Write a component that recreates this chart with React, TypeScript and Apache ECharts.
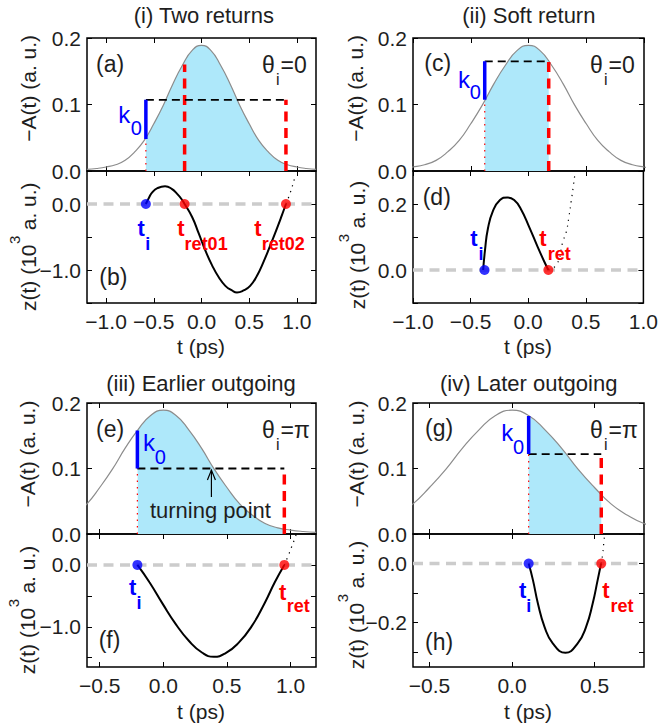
import React, { useEffect, useRef } from 'react';
import * as echarts from 'echarts';

// ---------------- data ----------------
const pulseT = [-1.2, -1.1, -1.0, -0.9, -0.8, -0.7, -0.6, -0.5, -0.4, -0.3, -0.2, -0.1, 0, 0.1, 0.2, 0.3, 0.4, 0.5, 0.6, 0.7, 0.8, 0.9, 1.0, 1.1, 1.2];
const pulseA = [0.0024, 0.0038, 0.006, 0.0094, 0.016, 0.0287, 0.046, 0.071, 0.099, 0.131, 0.159, 0.181, 0.189, 0.181, 0.159, 0.131, 0.099, 0.071, 0.046, 0.0287, 0.016, 0.0094, 0.006, 0.0038, 0.0024];

// (a)/(b) two returns
const tiA = -0.583;
const AtiA = 0.048;
const kLevelA = 0.107;
const tRetA = [-0.177, 0.885];
const retTopA = [0.16, 0.107];
const AEndA = 0.0104;
const zB = [[-0.583, 0], [-0.549, 0.1], [-0.514, 0.18], [-0.462, 0.24], [-0.382, 0.268], [-0.312, 0.23], [-0.253, 0.15], [-0.21, 0.076], [-0.177, 0],
  [-0.097, -0.2], [-0.028, -0.45], [0.042, -0.71], [0.111, -0.93], [0.181, -1.11], [0.25, -1.24], [0.319, -1.31], [0.372, -1.34],
  [0.441, -1.31], [0.51, -1.24], [0.58, -1.09], [0.649, -0.88], [0.72, -0.63], [0.788, -0.38], [0.84, -0.18], [0.885, 0]];
const zBDot = [[0.885, 0], [0.91, 0.09], [0.93, 0.17], [0.95, 0.26], [0.97, 0.36], [0.985, 0.45]];

// (c)/(d) soft return
const tiC = -0.379;
const AtiC = 0.107;
const kLevelC = 0.165;
const tRetC = [0.175];
const retTopC = [0.165];
const AEndC = 0.1645;
const zD = [[-0.391, 0], [-0.375, 0.06], [-0.35, 0.125], [-0.305, 0.18], [-0.245, 0.212], [-0.181, 0.22], [-0.122, 0.212], [-0.064, 0.185], [0.009, 0.13], [0.082, 0.07], [0.14, 0.025], [0.175, 0]];
const zDDot = [[0.175, 0], [0.25, 0.018], [0.3, 0.085], [0.33, 0.115], [0.353, 0.16], [0.374, 0.21], [0.394, 0.26], [0.405, 0.29]];

// (e)/(f) earlier outgoing
const tiE = -0.204;
const AtiE = 0.158;
const kLevelE = 0.1;
const tRetE = [0.951];
const retTopE = [0.1];
const AEndE = 0.0077;
const tTurnE = 0.378;
const zF = [[-0.204, 0], [-0.109, -0.28], [-0.005, -0.63], [0.099, -0.96], [0.202, -1.23], [0.306, -1.42], [0.396, -1.485], [0.487, -1.43], [0.591, -1.26], [0.695, -0.99], [0.798, -0.61], [0.876, -0.28], [0.951, 0]];
const zFDot = [[0.951, 0], [0.982, 0.15], [1.008, 0.29], [1.034, 0.43], [1.045, 0.5]];

// (g)/(h) later outgoing
const tiG = 0.101;
const AtiG = 0.18;
const kLevelG = 0.122;
const tRetG = [0.541];
const retTopG = [0.122];
const AEndG = 0.06;
const zH = [[0.101, 0], [0.127, -0.056], [0.157, -0.135], [0.197, -0.214], [0.247, -0.27], [0.324, -0.302], [0.398, -0.27], [0.449, -0.214], [0.489, -0.135], [0.519, -0.056], [0.54, 0]];
const zHDot = [[0.54, 0], [0.55, 0.034], [0.556, 0.068], [0.562, 0.1]];

// axes
const xRangeAB = [-1.2, 1.2];
const xRangeCD = [-1, 1];
const xRangeEF = [-0.6, 1.2];
const xRangeGH = [-0.6, 0.8];
const xTicksAB = [-1, -0.5, 0, 0.5, 1];
const xTicksCD = [-1, -0.5, 0, 0.5, 1];
const xTicksEF = [-0.5, 0, 0.5, 1];
const xTicksGH = [-0.5, 0, 0.5];
const yRangeUp = [0, 0.2];
const yTicksUp = [0, 0.1, 0.2];
const yRangeB = [-1.5, 0.5];
const yTicksB = [-1.5, -1, -0.5, 0, 0.5];
const yLabelsB = [-1, 0];
const yRangeD = [-0.1, 0.3];
const yTicksD = [-0.1, 0, 0.1, 0.2, 0.3];
const yLabelsD = [0, 0.2];
const yRangeF = [-1.65, 0.5];
const yTicksF = [-1.5, -1, -0.5, 0, 0.5];
const yLabelsF = [-1, 0];
const yRangeH = [-0.35, 0.1];
const yTicksH = [-0.3, -0.2, -0.1, 0, 0.1];
const yLabelsH = [-0.2, 0];

const titles = ['(i) Two returns', '(ii) Soft return', '(iii) Earlier outgoing', '(iv) Later outgoing'];
const letters = ['(a)', '(b)', '(c)', '(d)', '(e)', '(f)', '(g)', '(h)'];
const thetaVals = ['=0', '=0', '=\u03c0', '=\u03c0'];

// ---------------- layout ----------------
const FONT = "'Liberation Sans', Arial, Helvetica, sans-serif";
const TXT = '#1e1e1e';
const FILL = '#aee8fa';
const RED = '#ff0000';
const BLUE = '#0000ff';

const GRIDS = [
  { left: 87, top: 38, width: 229, height: 133 },
  { left: 87, top: 171, width: 229, height: 132 },
  { left: 413, top: 38, width: 231, height: 133 },
  { left: 413, top: 171, width: 231, height: 132 },
  { left: 87, top: 403, width: 229, height: 131 },
  { left: 87, top: 534, width: 229, height: 133 },
  { left: 413, top: 403, width: 231, height: 131 },
  { left: 413, top: 534, width: 231, height: 133 },
];

const panels = [
  {
    up: 0, low: 1, xr: xRangeAB, xt: xTicksAB, yLow: yRangeB, yLowT: yTicksB, yLowL: yLabelsB,
    ti: tiA, Ati: AtiA, k: kLevelA, rets: tRetA, retTop: retTopA, AEnd: AEndA, z: zB, zDot: zBDot,
    kOff: { k: [-27.7, 15], s: [-15, 28] },
    tLab: [
      { sub: 'i', color: BLUE, m: [-8.3, 24], s: [-0.7, 40.4] },
      { sub: 'ret01', color: RED, m: [-7.3, 24], s: [0, 40] },
      { sub: 'ret02', color: RED, m: [-31.7, 24], s: [-24.3, 40] },
    ],
    titlePos: [203.8, 15], yNameUp: [28.3, 88.3], yNameLow: [28.5, 246.7], xName: [201, 346.5],
  },
  {
    up: 2, low: 3, xr: xRangeCD, xt: xTicksCD, yLow: yRangeD, yLowT: yTicksD, yLowL: yLabelsD,
    ti: tiC, Ati: AtiC, k: kLevelC, rets: tRetC, retTop: retTopC, AEnd: AEndC, z: zD, zDot: zDDot,
    kOff: { k: [-26.7, 18], s: [-15, 31] },
    tLab: [
      { sub: 'i', color: BLUE, m: [-14.3, -31.7], s: [-6, -16.3] },
      { sub: 'ret', color: RED, m: [-9, -31.3], s: [-0.7, -16.3] },
    ],
    titlePos: [528.8, 15], yNameUp: [355, 88.3], yNameLow: [357, 245], xName: [528, 346.5],
  },
  {
    up: 4, low: 5, xr: xRangeEF, xt: xTicksEF, yLow: yRangeF, yLowT: yTicksF, yLowL: yLabelsF,
    ti: tiE, Ati: AtiE, k: kLevelE, rets: tRetE, retTop: retTopE, AEnd: AEndE, z: zF, zDot: zFDot,
    kOff: { k: [5.7, 12.3], s: [17.3, 26.7] },
    tLab: [
      { sub: 'i', color: BLUE, m: [-8.3, 22.6], s: [-1, 38] },
      { sub: 'ret', color: RED, m: [-5.3, 27.6], s: [2.4, 41] },
    ],
    titlePos: [201, 383], yNameUp: [27.5, 454], yNameLow: [27.5, 610], xName: [201, 711],
  },
  {
    up: 6, low: 7, xr: xRangeGH, xt: xTicksGH, yLow: yRangeH, yLowT: yTicksH, yLowL: yLabelsH,
    ti: tiG, Ati: AtiG, k: kLevelG, rets: tRetG, retTop: retTopG, AEnd: AEndG, z: zH, zDot: zHDot,
    kOff: { k: [-27.3, 16.6], s: [-15.7, 31.3] },
    tLab: [
      { sub: 'i', color: BLUE, m: [-9.7, 27], s: [-2.3, 42] },
      { sub: 'ret', color: RED, m: [1, 27], s: [9.3, 42] },
    ],
    titlePos: [528.7, 383], yNameUp: [356, 454], yNameLow: [356.7, 605], xName: [528, 711],
  },
];

const letterPos = [[96, 64.3], [99.3, 277], [424.3, 62.5], [422.7, 196.7], [96, 429], [98.7, 639.7], [425, 428], [425, 641.5]];

const fmt = (v: number) => (Math.abs(v) < 1e-9 ? '0.0' : v.toFixed(1)).replace('-', '\u2212');

let measureCtx: CanvasRenderingContext2D | null = null;
function measure(s: string, size: number) {
  if (!measureCtx) measureCtx = document.createElement('canvas').getContext('2d');
  if (!measureCtx) return s.length * size * 0.5;
  measureCtx.font = `${size}px ${FONT}`;
  return measureCtx.measureText(s).width;
}

function mkAxis(kind: 'x' | 'y', g: number, range: number[], ticks: number[], labels: number[] | null, primary: boolean) {
  return {
    type: 'value',
    gridIndex: g,
    min: range[0],
    max: range[1],
    position: kind === 'x' ? (primary ? 'bottom' : 'top') : (primary ? 'left' : 'right'),
    axisLine: { show: false, onZero: false },
    splitLine: { show: false },
    axisTick: { show: true, inside: true, length: 5, customValues: ticks, lineStyle: { color: '#000', width: 1 } },
    axisLabel: primary && labels
      ? { show: true, customValues: labels, formatter: fmt, fontSize: 21, color: TXT, fontFamily: FONT, margin: kind === 'x' ? 8 : 6, showMinLabel: true, showMaxLabel: true }
      : { show: false },
  };
}

function buildOption() {
  const xAxis: any[] = [];
  const yAxis: any[] = [];
  const series: any[] = [];
  const pulse = pulseT.map((t, i) => [t, pulseA[i]]);

  panels.forEach((p) => {
    const gu = p.up;
    xAxis[2 * gu] = mkAxis('x', gu, p.xr, p.xt, null, true);
    xAxis[2 * gu + 1] = mkAxis('x', gu, p.xr, p.xt, null, false);
    yAxis[2 * gu] = mkAxis('y', gu, yRangeUp, yTicksUp, yTicksUp, true);
    yAxis[2 * gu + 1] = mkAxis('y', gu, yRangeUp, yTicksUp, null, false);
    const gl = p.low;
    xAxis[2 * gl] = mkAxis('x', gl, p.xr, p.xt, p.xt, true);
    xAxis[2 * gl + 1] = mkAxis('x', gl, p.xr, p.xt, null, false);
    yAxis[2 * gl] = mkAxis('y', gl, p.yLow, p.yLowT, p.yLowL, true);
    yAxis[2 * gl + 1] = mkAxis('y', gl, p.yLow, p.yLowT, null, false);

    const tEnd = p.rets[p.rets.length - 1];
    const shade = [[p.ti, p.Ati], ...pulse.filter(([t]) => t > p.ti + 1e-6 && t < tEnd - 1e-6), [tEnd, p.AEnd]];
    const U = { xAxisIndex: 2 * gu, yAxisIndex: 2 * gu, symbol: 'none', silent: true, animation: false };
    series.push({ ...U, type: 'line', data: shade, smooth: true, lineStyle: { width: 0, opacity: 0 }, areaStyle: { color: FILL, opacity: 1 }, z: 1 });
    series.push({ ...U, type: 'line', data: pulse, smooth: true, lineStyle: { color: '#8c8c8c', width: 1.2 }, z: 2 });
    series.push({ ...U, type: 'line', data: [[p.ti, 0], [p.ti, Math.min(p.Ati, p.k)]], lineStyle: { color: RED, width: 1.2, type: [1.5, 5] }, z: 3 });
    p.rets.forEach((t, i) => {
      series.push({ ...U, type: 'line', data: [[t, 0], [t, p.retTop[i]]], lineStyle: { color: RED, width: 3.5, type: [10, 6.5], cap: 'butt' }, z: 4 });
    });
    series.push({ ...U, type: 'line', data: [[p.ti, p.k], [tEnd, p.k]], lineStyle: { color: '#000', width: 1.8, type: [8, 5] }, z: 5 });
    series.push({ ...U, type: 'line', data: [[p.ti, p.Ati], [p.ti, p.k]], lineStyle: { color: BLUE, width: 3.5 }, z: 6 });

    const L = { xAxisIndex: 2 * gl, yAxisIndex: 2 * gl, silent: true, animation: false };
    series.push({ ...L, type: 'line', symbol: 'none', data: [[p.xr[0], 0], [p.xr[1], 0]], lineStyle: { color: '#cccccc', width: 3.5, type: [10, 6.5] }, z: 1 });
    series.push({ ...L, type: 'line', symbol: 'none', data: p.zDot, smooth: true, lineStyle: { color: '#000', width: 1.2, type: [1.2, 5] }, z: 2 });
    series.push({ ...L, type: 'line', symbol: 'none', data: p.z, smooth: true, lineStyle: { color: '#000', width: 2 }, z: 3 });
    series.push({ ...L, type: 'scatter', data: [[p.ti, 0]], symbolSize: 10, itemStyle: { color: BLUE }, z: 5 });
    series.push({ ...L, type: 'scatter', data: p.rets.map((t) => [t, 0]), symbolSize: 10, itemStyle: { color: RED }, z: 5 });
  });

  return {
    animation: false,
    backgroundColor: '#fff',
    grid: GRIDS.map((g) => ({ ...g, show: true, borderColor: '#000', borderWidth: 1.5, backgroundColor: 'transparent', containLabel: false })),
    xAxis,
    yAxis,
    series,
  };
}

function buildGraphic(chart: any) {
  const els: any[] = [];
  const px = (g: number, x: number, y: number) => chart.convertToPixel({ xAxisIndex: 2 * g, yAxisIndex: 2 * g }, [x, y]) as number[];
  const mkText = (x: number, y: number, text: string, size: number, o: any = {}) => ({
    type: 'text', x, y, z: 100, silent: true, rotation: o.rot || 0,
    style: {
      text, fill: o.color || TXT, fontSize: size, fontFamily: FONT, fontWeight: o.bold ? 'bold' : 'normal',
      align: o.align || 'left', textAlign: o.align || 'left', verticalAlign: 'middle', textVerticalAlign: 'middle',
    },
  });
  const txt = (x: number, y: number, text: string, size: number, o: any = {}) => { els.push(mkText(x, y, text, size, o)); };

  panels.forEach((p, pi) => {
    const gu = p.up;
    const gl = p.low;
    txt(p.titlePos[0], p.titlePos[1], titles[pi], 22, { align: 'center' });
    txt(p.yNameUp[0], p.yNameUp[1], '\u2212A(t) (a. u.)', 21, { align: 'center', rot: Math.PI / 2 });

    // z(t) (10^3 a. u.) as rotated group
    const s1 = 'z(t) (10';
    const s2 = '3';
    const s3 = ' a. u.)';
    const w1 = measure(s1, 21);
    const w2 = measure(s2, 15);
    const w3 = measure(s3, 21);
    const x0 = -(w1 + w2 + w3) / 2;
    els.push({
      type: 'group', x: p.yNameLow[0], y: p.yNameLow[1], rotation: Math.PI / 2,
      children: [
        mkText(x0, 0, s1, 21),
        mkText(x0 + w1 + 0.5, -14, s2, 15),
        mkText(x0 + w1 + w2, 0, s3, 21),
      ],
    });
    txt(p.xName[0], p.xName[1], 't (ps)', 21, { align: 'center' });

    // theta label
    const G = GRIDS[gu];
    const R = G.left + G.width;
    txt(R - 54, G.top + 27, '\u03b8', 23);
    txt(R - 40, G.top + 41, 'i', 16);
    txt(R - 35.5, G.top + 27, thetaVals[pi], 23);

    // k0 label
    const kTop = Math.max(p.Ati, p.k);
    const [kx, ky] = px(gu, p.ti, kTop);
    txt(kx + p.kOff.k[0], ky + p.kOff.k[1], 'k', 24, { color: BLUE });
    txt(kx + p.kOff.s[0], ky + p.kOff.s[1], '0', 20, { color: BLUE });

    // t labels
    const anchors = [p.ti, ...p.rets];
    p.tLab.forEach((lab, i) => {
      const [ax, ay] = px(gl, anchors[i], 0);
      txt(ax + lab.m[0], ay + lab.m[1], 't', 22, { color: lab.color, bold: true });
      txt(ax + lab.s[0], ay + lab.s[1], lab.sub, 18, { color: lab.color, bold: true });
    });
  });

  letters.forEach((l, i) => txt(letterPos[i][0], letterPos[i][1], l, 23));

  // turning point arrow (panel e)
  const [tx, ty] = px(4, tTurnE, kLevelE);
  const tipY = ty + 1.5;
  els.push({ type: 'line', z: 100, silent: true, shape: { x1: tx, y1: tipY, x2: tx, y2: tipY + 27 }, style: { stroke: '#000', lineWidth: 1.2 } });
  els.push({ type: 'polyline', z: 100, silent: true, shape: { points: [[tx - 4, tipY + 10], [tx, tipY], [tx + 4, tipY + 10]] }, style: { stroke: '#000', lineWidth: 1.2, fill: null } });
  txt(tx - 1, tipY + 40, 'turning point', 22, { align: 'center' });

  return { elements: els };
}

export default function App() {
  const ref = useRef<HTMLDivElement>(null);
  useEffect(() => {
    const chart = echarts.init(ref.current!, null, { renderer: 'svg', width: 661, height: 727 });
    chart.setOption(buildOption() as any);
    chart.setOption({ graphic: buildGraphic(chart) } as any);
    return () => chart.dispose();
  }, []);
  return <div ref={ref} style={{ position: 'fixed', left: 0, top: 0, width: 661, height: 727, background: '#fff' }} />;
}
